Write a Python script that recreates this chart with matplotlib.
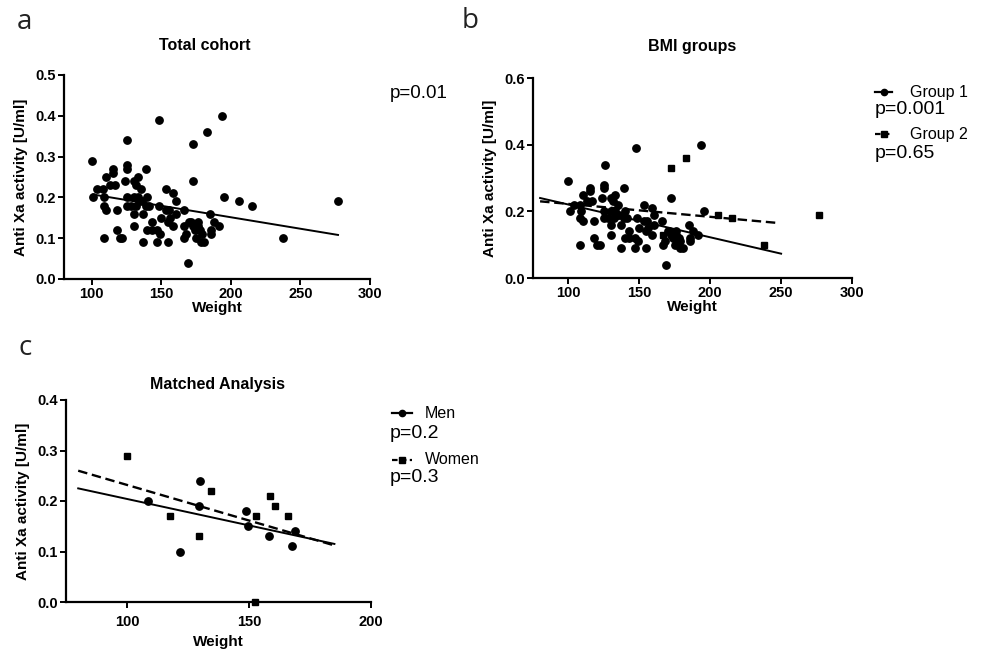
import matplotlib
matplotlib.use('Agg')
import matplotlib.pyplot as plt
from matplotlib.lines import Line2D

plt.rcParams['font.family'] = ['Liberation Sans', 'DejaVu Sans']

# group 1 (circles) - weight / anti Xa activity
g1_weight = [100, 101, 104, 108, 110, 109, 108.5, 110, 108.5, 113, 116.5, 115, 115,
             118, 118, 120, 122, 124, 125.5, 125, 125, 125, 125, 128, 130, 131.5,
             133, 130, 133, 134, 136, 135, 132, 130, 130, 137, 137, 139, 140, 139,
             141, 143, 140, 143, 146.7, 148, 147, 148.6, 149, 150, 153, 153.5,
             155.5, 154.6, 155, 156, 158.7, 158.7, 160.6, 160.6, 166, 166.6, 168,
             169, 170, 171, 172.6, 172.6, 174, 175, 176, 176, 178, 179, 178.5, 181,
             185, 185.7, 185.7, 187.7, 191.7, 193.4, 195.3]
g1_xa = [0.29, 0.20, 0.22, 0.22, 0.25, 0.20, 0.18, 0.17, 0.10, 0.23, 0.23, 0.27, 0.26,
         0.17, 0.12, 0.10, 0.10, 0.24, 0.34, 0.28, 0.27, 0.20, 0.18, 0.18, 0.24, 0.23,
         0.25, 0.20, 0.20, 0.19, 0.19, 0.22, 0.18, 0.16, 0.13, 0.16, 0.09, 0.27, 0.20, 0.18,
         0.18, 0.14, 0.12, 0.12, 0.12, 0.39, 0.09, 0.18, 0.11, 0.15, 0.22, 0.17,
         0.17, 0.09, 0.14, 0.15, 0.21, 0.13, 0.19, 0.16, 0.17, 0.10, 0.11,
         0.04, 0.14, 0.14, 0.24, 0.13, 0.12, 0.10, 0.14, 0.13, 0.12, 0.11, 0.09, 0.09,
         0.16, 0.12, 0.11, 0.14, 0.13, 0.40, 0.20]
# group 2 (squares)
g2_weight = [166.6, 172.6, 183, 205.6, 215.2, 237.7, 276.8]
g2_xa = [0.13, 0.33, 0.36, 0.19, 0.18, 0.10, 0.19]

# matched analysis
men_weight = [108.6, 130.1, 129.5, 121.9, 148.6, 149.5, 158.4, 167.7, 169]
men_xa = [0.20, 0.24, 0.19, 0.10, 0.18, 0.15, 0.13, 0.11, 0.14]
women_weight = [100, 117.5, 134.5, 129.6, 152.3, 152.9, 158.8, 160.5, 165.9]
women_xa = [0.29, 0.17, 0.22, 0.13, 0.00, 0.17, 0.21, 0.19, 0.17]

# regression lines (end points)
fit_all_x, fit_all_y = [101, 277], [0.207, 0.108]
fit_g1_x, fit_g1_y = [80, 250], [0.24, 0.073]
fit_g2_x, fit_g2_y = [80, 248], [0.23, 0.165]
fit_men_x, fit_men_y = [80, 185], [0.225, 0.115]
fit_women_x, fit_women_y = [80, 185], [0.26, 0.112]

W, H = 984, 651
fig = plt.figure(figsize=(W / 100, H / 100), dpi=100)


def px_axes(left, top, right, bottom):
    return fig.add_axes([left / W, 1 - bottom / H, (right - left) / W, (bottom - top) / H])


def style(ax, xlim, xticks, ylim, yticks, title, title_xy, xpad=0, lpad=0):
    ax.set_xlim(*xlim)
    ax.set_ylim(*ylim)
    ax.set_xticks(xticks)
    ax.set_yticks(yticks)
    ax.set_yticklabels(['%.1f' % t for t in yticks])
    for s in ['top', 'right']:
        ax.spines[s].set_visible(False)
    for s in ['left', 'bottom']:
        ax.spines[s].set_linewidth(1.6)
    ax.tick_params(width=1.4, length=4, labelsize=10.5, pad=2)
    ax.tick_params(axis='x', pad=2 + xpad)
    for lab in ax.get_xticklabels() + ax.get_yticklabels():
        lab.set_fontweight('bold')
    ax.set_xlabel('Weight', fontsize=11, fontweight='bold', labelpad=lpad)
    ax.set_ylabel('Anti Xa activity [U/ml]', fontsize=11, fontweight='bold', labelpad=5)
    fig.text(title_xy[0] / W, 1 - title_xy[1] / H, title, fontsize=11.5,
             fontweight='bold', ha='center', va='center')


ms = 5.3
lw = 1.4

# a: total cohort
ax1 = px_axes(64, 75, 370, 279)
ax1.plot(g1_weight + g2_weight, g1_xa + g2_xa, 'o', color='black', ms=ms, clip_on=False)
ax1.plot(fit_all_x, fit_all_y, '-', color='black', lw=lw)
style(ax1, (80, 300), [100, 150, 200, 250, 300], (0, 0.5), [0, 0.1, 0.2, 0.3, 0.4, 0.5],
      'Total cohort', (205, 45))
fig.text(390 / W, 1 - 93 / H, 'p=0.01', fontsize=13.5, va='center')

# b: BMI groups
ax2 = px_axes(533, 78, 852, 278)
ax2.plot(g1_weight, g1_xa, 'o', color='black', ms=ms, clip_on=False)
ax2.plot(g2_weight, g2_xa, 's', color='black', ms=ms - 0.6, clip_on=False)
ax2.plot(fit_g1_x, fit_g1_y, '-', color='black', lw=lw)
ax2.plot(fit_g2_x, fit_g2_y, '--', color='black', lw=lw + 0.3, dashes=(4, 2))
style(ax2, (75, 300), [100, 150, 200, 250, 300], (0, 0.6), [0, 0.2, 0.4, 0.6],
      'BMI groups', (692, 47))

# c: matched analysis
ax3 = px_axes(66, 400, 371, 602)
ax3.plot(men_weight, men_xa, 'o', color='black', ms=ms, clip_on=False)
ax3.plot(women_weight, women_xa, 's', color='black', ms=ms - 0.6, clip_on=False)
ax3.plot(fit_men_x, fit_men_y, '-', color='black', lw=lw)
ax3.plot(fit_women_x, fit_women_y, '--', color='black', lw=lw + 0.3, dashes=(4, 2))
style(ax3, (75, 200), [100, 150, 200], (0, 0.4), [0, 0.1, 0.2, 0.3, 0.4],
      'Matched Analysis', (218, 385), xpad=3, lpad=5)


def legend_entry(x0, x1, y, marker, dashed, label, lx):
    yy = 1 - y / H
    ls = (0, (2.5, 1.5)) if dashed else '-'
    fig.add_artist(Line2D([x0 / W, x1 / W], [yy, yy], color='black', lw=1.6, ls=ls))
    fig.add_artist(Line2D([(x0 + x1) / 2 / W], [yy], color='black', marker=marker,
                          ms=4.5, ls='none'))
    fig.text(lx / W, yy, label, fontsize=11.5, va='center')


legend_entry(875, 892, 92, 'o', False, 'Group 1', 910)
fig.text(875 / W, 1 - 110 / H, 'p=0.001', fontsize=14, va='center')
legend_entry(875, 892, 134, 's', True, 'Group 2', 910)
fig.text(875 / W, 1 - 153 / H, 'p=0.65', fontsize=14, va='center')

legend_entry(392, 412, 413, 'o', False, 'Men', 425)
fig.text(390 / W, 1 - 433 / H, 'p=0.2', fontsize=14, va='center')
legend_entry(392, 412, 460, 's', True, 'Women', 425)
fig.text(390 / W, 1 - 477 / H, 'p=0.3', fontsize=14, va='center')

# panel letters
for letter, x, y in [('a', 17, 22), ('b', 462, 21), ('c', 19, 348)]:
    fig.text(x / W, 1 - y / H, letter, fontsize=20, family='Open Sans', color='#222222', va='center')

fig.savefig('out.png', dpi=100)
